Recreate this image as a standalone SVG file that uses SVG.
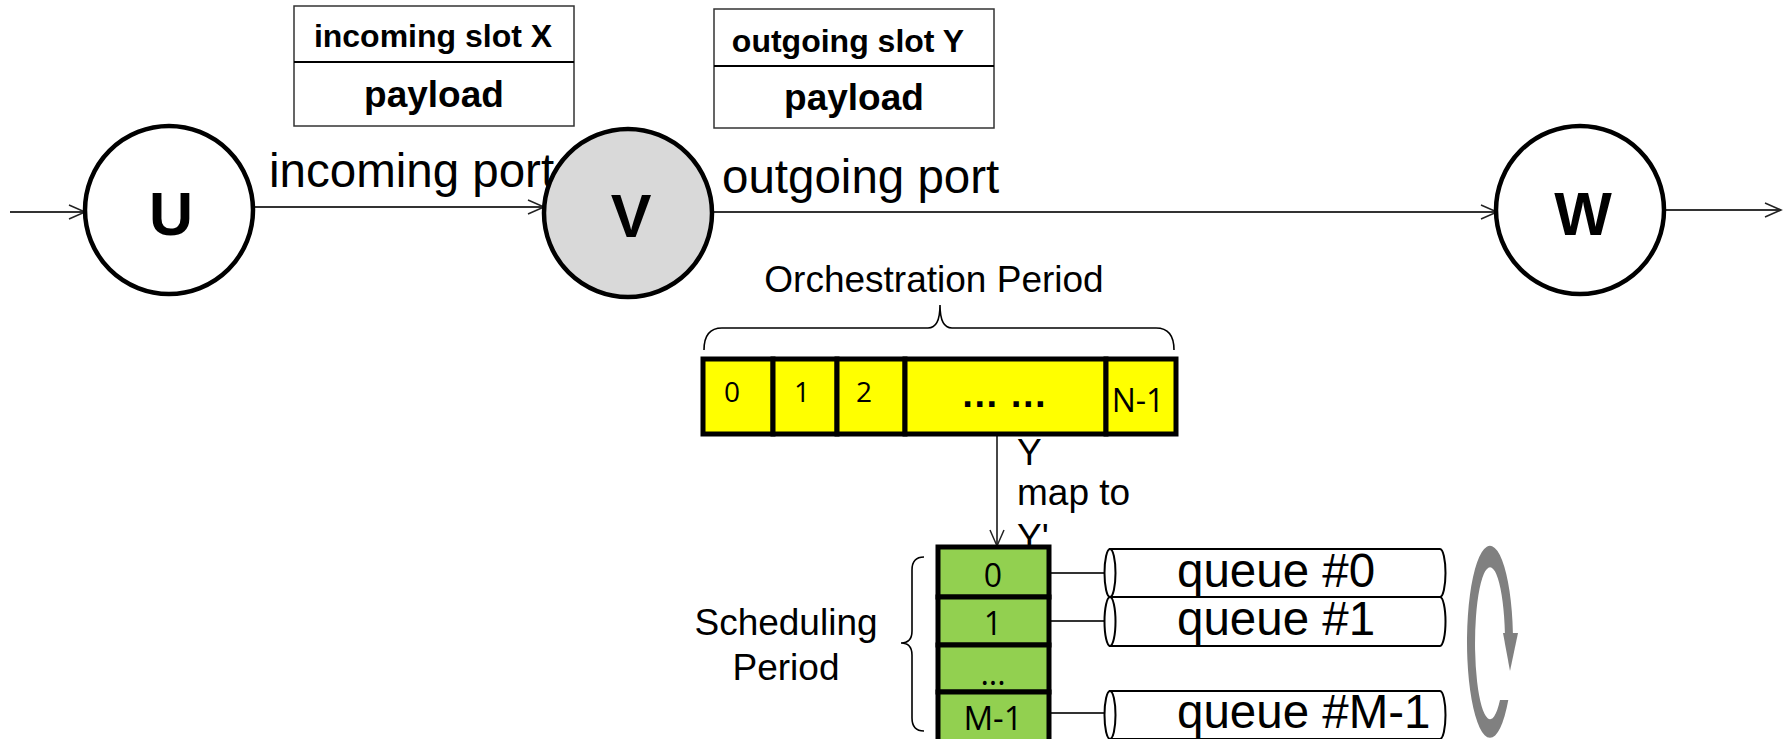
<svg xmlns="http://www.w3.org/2000/svg" width="1786" height="739" viewBox="0 0 1786 739">
  <defs>
    <marker id="open-arrow" markerUnits="userSpaceOnUse" markerWidth="20" markerHeight="18" refX="17" refY="8" orient="auto">
      <path d="M1,1 L17,8 L1,15" fill="none" stroke="#222" stroke-width="1.5"/>
    </marker>
    <style>
      .bg { fill: #ffffff; }
      .conn { stroke: #333; stroke-width: 1.8; fill: none; }
      .node { stroke: #000; stroke-width: 4.5; }
      .plain { fill: #fff; }
      .busy { fill: #d9d9d9; }
      .node-label { font-family: "Liberation Sans", Arial, sans-serif; font-weight: bold; font-size: 61px; fill: #000; text-anchor: middle; }
      .header { fill: #fff; stroke: #333; stroke-width: 1.5; }
      .divider { stroke: #000; stroke-width: 2.2; }
      .hdr-text { font-family: "Liberation Sans", Arial, sans-serif; font-weight: bold; fill: #000; text-anchor: middle; }
      .big { font-family: "Liberation Sans", Arial, sans-serif; font-size: 47.5px; fill: #000; }
      .mid { font-family: "Liberation Sans", Arial, sans-serif; font-size: 37px; fill: #000; }
      .brace { fill: none; stroke: #000; stroke-width: 1.6; }
      .cell-y { fill: #ffff00; stroke: #000; stroke-width: 5; }
      .cell-g { fill: #92d050; stroke: #000; stroke-width: 5; }
      .cell-text { font-family: "Open Sans", "Noto Sans", sans-serif; fill: #000; text-anchor: middle; }
      .queue { fill: #fff; stroke: #000; stroke-width: 2; }
      .queue-text { font-family: "Liberation Sans", Arial, sans-serif; font-size: 47.5px; fill: #000; }
      .cycle { fill: #808080; }
    </style>
  </defs>

  <rect class="bg" x="0" y="0" width="1786" height="739"/>

  <!-- slot headers -->
  <g id="incoming-slot">
    <rect class="header" x="294" y="6" width="280" height="120"/>
    <line class="divider" x1="294" y1="62" x2="574" y2="62"/>
    <text class="hdr-text" x="433" y="47" font-size="32">incoming slot X</text>
    <text class="hdr-text" x="434" y="107" font-size="37">payload</text>
  </g>
  <g id="outgoing-slot">
    <rect class="header" x="714" y="9" width="280" height="119"/>
    <line class="divider" x1="714" y1="66" x2="994" y2="66"/>
    <text class="hdr-text" x="848" y="52" font-size="32">outgoing slot Y</text>
    <text class="hdr-text" x="854" y="110" font-size="37">payload</text>
  </g>

  <!-- connectors -->
  <g id="connectors">
    <line class="conn" x1="10" y1="212" x2="85" y2="212" marker-end="url(#open-arrow)"/>
    <line class="conn" x1="253" y1="207" x2="544" y2="207" marker-end="url(#open-arrow)"/>
    <line class="conn" x1="712" y1="212" x2="1497" y2="212" marker-end="url(#open-arrow)"/>
    <line class="conn" x1="1664" y1="210" x2="1781" y2="210" marker-end="url(#open-arrow)"/>
    <line class="conn" x1="997" y1="434" x2="997" y2="546" marker-end="url(#open-arrow)"/>
    <line class="conn" x1="1049" y1="573" x2="1105" y2="573"/>
    <line class="conn" x1="1049" y1="621" x2="1105" y2="621"/>
    <line class="conn" x1="1049" y1="713" x2="1105" y2="713"/>
  </g>

  <!-- port labels -->
  <text class="big" x="269" y="187">incoming port</text>
  <text class="big" x="722" y="193">outgoing port</text>

  <!-- nodes -->
  <g id="node-U">
    <circle class="node plain" cx="169" cy="210" r="84"/>
    <text class="node-label" x="171" y="235">U</text>
  </g>
  <g id="node-V">
    <circle class="node busy" cx="628" cy="213" r="84"/>
    <text class="node-label" x="631" y="237">V</text>
  </g>
  <g id="node-W">
    <circle class="node plain" cx="1580" cy="210" r="84"/>
    <text class="node-label" x="1583" y="235">W</text>
  </g>

  <!-- orchestration period -->
  <g id="orchestration-period">
    <text class="mid" x="934" y="292" text-anchor="middle">Orchestration Period</text>
    <path class="brace" d="M704,350 Q704,328 722,328 L928,328 Q940,328 940,305 Q940,328 952,328 L1156,328 Q1174,328 1174,350"/>
    <rect class="cell-y" x="703" y="359" width="70" height="75"/>
    <rect class="cell-y" x="773" y="359" width="64" height="75"/>
    <rect class="cell-y" x="837" y="359" width="68" height="75"/>
    <rect class="cell-y" x="905" y="359" width="201" height="75"/>
    <rect class="cell-y" x="1106" y="359" width="70" height="75"/>
    <text class="cell-text" x="732" y="402" font-size="28">0</text>
    <text class="cell-text" x="802" y="402" font-size="28">1</text>
    <text class="cell-text" x="864" y="402" font-size="28">2</text>
    <text x="1004" y="407" font-family="Liberation Sans, Arial, sans-serif" font-weight="bold" font-size="38" text-anchor="middle">… …</text>
    <text class="cell-text" x="1138" y="412" font-size="32">N-1</text>
  </g>

  <!-- slot mapping label -->
  <g id="mapping-label">
    <text class="mid" x="1017" y="465" font-size="35">Y</text>
    <text class="mid" x="1017" y="505" font-size="29">map to</text>
    <text class="mid" x="1017" y="550" font-size="35">Y'</text>
  </g>

  <!-- scheduling period -->
  <g id="scheduling-period">
    <text class="mid" x="786" y="635" text-anchor="middle" font-size="38">Scheduling</text>
    <text class="mid" x="786" y="680" text-anchor="middle" font-size="38">Period</text>
    <path class="brace" d="M924,557 Q912,557 912,570 L912,631 Q912,643 901,643 Q912,643 912,655 L912,718 Q912,731 924,731"/>
    <rect class="cell-g" x="938" y="547" width="111" height="50"/>
    <rect class="cell-g" x="938" y="597" width="111" height="48"/>
    <rect class="cell-g" x="938" y="645" width="111" height="47"/>
    <rect class="cell-g" x="938" y="692" width="111" height="55"/>
    <text class="cell-text" x="993" y="587" font-size="32">0</text>
    <text class="cell-text" x="993" y="635" font-size="32">1</text>
    <text class="cell-text" x="993" y="685" font-size="32">...</text>
    <text class="cell-text" x="993" y="730" font-size="33">M-1</text>
  </g>

  <!-- queues -->
  <g id="queue-0">
    <path class="queue" d="M1110,549 L1440,549 A5.5,24 0 0 1 1440,597 L1110,597 Z"/>
    <ellipse class="queue" cx="1110" cy="573" rx="5.5" ry="24"/>
    <text class="queue-text" x="1177" y="587">queue #0</text>
  </g>
  <g id="queue-1">
    <path class="queue" d="M1110,597 L1440,597 A5.5,24.5 0 0 1 1440,646 L1110,646 Z"/>
    <ellipse class="queue" cx="1110" cy="621.5" rx="5.5" ry="24.5"/>
    <text class="queue-text" x="1177" y="635">queue #1</text>
  </g>
  <g id="queue-M-1">
    <path class="queue" d="M1110,691 L1440,691 A5.5,24 0 0 1 1440,739 L1110,739 Z"/>
    <ellipse class="queue" cx="1110" cy="715" rx="5.5" ry="24"/>
    <text class="queue-text" x="1177" y="728">queue #M-1</text>
  </g>

  <!-- round-robin cycle arrow -->
  <g id="cycle-arrow">
    <path class="cycle" d="M1512.9,633 A23,96 0 1 0 1508.3,700 L1500,700 A15,76 0 1 1 1504.9,633 Z"/>
    <polygon class="cycle" points="1503,633 1518,633 1510,671"/>
  </g>
</svg>
